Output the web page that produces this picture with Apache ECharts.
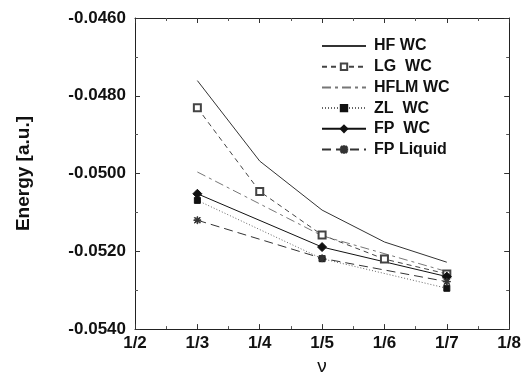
<!DOCTYPE html>
<html>
<head>
<meta charset="utf-8">
<script src="https://cdn.jsdelivr.net/npm/echarts@6/dist/echarts.min.js"></script>
<style>
  html, body { margin: 0; padding: 0; background: #fff; }
  #chart { width: 524px; height: 381px; }
</style>
</head>
<body>
<div id="chart"></div>
<script>
// nu = 1/n, n used as the x value
const nAll = [3, 4, 5, 6, 7];
const nOdd = [3, 5, 7];
const hfWC = [-0.04761, -0.04968, -0.05094, -0.05176, -0.05228];
const lgWC = [-0.04831, -0.05046, -0.05158, -0.05220, -0.05258];
const hflmWC = [-0.04996, -0.05160, -0.05252];
const zlWC = [-0.05069, -0.05219, -0.05295];
const fpWC = [-0.05052, -0.05189, -0.05265];
const fpLiquid = [-0.05120, -0.05218, -0.05278];

const FONT = '"Liberation Sans", Arial, sans-serif';
const asterisk = 'path://M4,0h1v9h-1z M0,4h9v1h-9z M0.6,1.3l0.7,-0.7l7.1,7.1l-0.7,0.7z M7.7,0.6l0.7,0.7l-7.1,7.1l-0.7,-0.7z';

const pairs = (xs, ys) => xs.map((x, i) => [x, ys[i]]);

const chart = echarts.init(document.getElementById('chart'), null, { renderer: 'canvas' });

const tickCfg = {
  axisLine: { lineStyle: { color: '#222', width: 1 } },
  axisTick: { inside: true, length: 5, lineStyle: { color: '#333' } },
  minorTick: { show: true, splitNumber: 2, length: 3, lineStyle: { color: '#555' } },
  splitLine: { show: false },
};

const line = (name, data, color, type, symbol, size, markColor) => ({
  name,
  type: 'line',
  data,
  symbol: symbol || 'none',
  symbolSize: size || 6,
  showSymbol: !!symbol,
  animation: false,
  lineStyle: { color, width: 1, type },
  itemStyle: { color: markColor || color, borderColor: markColor || color, borderWidth: 1 },
  emphasis: { disabled: true },
});

const clear = { color: 'rgba(0,0,0,0)', borderColor: 'rgba(0,0,0,0)', borderWidth: 0 };

chart.setOption({
  backgroundColor: '#fff',
  animation: false,
  grid: { left: 135, top: 18, right: 12, bottom: 41 },
  legend: {
    orient: 'vertical',
    left: 316,
    top: 33,
    itemWidth: 44,
    itemHeight: 8,
    itemGap: 4.7,
    textStyle: { fontFamily: FONT, fontSize: 16, fontWeight: 'bold', color: '#111', padding: [0, 0, 0, 3] },
    data: [
      { name: 'HF WC', icon: 'inherit', itemStyle: clear },
      { name: 'LG  WC' },
      { name: 'HFLM WC', icon: 'inherit', itemStyle: clear },
      { name: 'ZL  WC' },
      { name: 'FP  WC' },
      { name: 'FP Liquid' },
    ],
  },
  xAxis: [
    Object.assign({
      type: 'value', min: 2, max: 8, interval: 1,
      name: 'ν', nameLocation: 'middle', nameGap: 26,
      nameTextStyle: { fontFamily: FONT, fontSize: 19, color: '#111' },
      axisLabel: { fontFamily: FONT, fontSize: 17, fontWeight: 'bold', color: '#111', margin: 6, formatter: v => '1/' + v },
    }, tickCfg),
    Object.assign({
      type: 'value', min: 2, max: 8, interval: 1, position: 'top',
      axisLabel: { show: false },
    }, tickCfg),
  ],
  yAxis: [
    Object.assign({
      type: 'value', min: -0.054, max: -0.046, interval: 0.002,
      name: 'Energy [a.u.]', nameLocation: 'middle', nameGap: 102, nameRotate: 90,
      nameTextStyle: { fontFamily: FONT, fontSize: 19, fontWeight: 'bold', color: '#111' },
      axisLabel: { fontFamily: FONT, fontSize: 17, fontWeight: 'bold', color: '#111', margin: 9, formatter: v => v.toFixed(4) },
    }, tickCfg),
    Object.assign({
      type: 'value', min: -0.054, max: -0.046, interval: 0.002, position: 'right',
      axisLabel: { show: false },
    }, tickCfg),
  ],
  series: [
    line('HF WC', pairs(nAll, hfWC), '#333', 'solid'),
    line('LG  WC', pairs(nAll, lgWC), '#444', [5, 4], 'emptyRect', 7),
    line('HFLM WC', pairs(nOdd, hflmWC), '#777', [9, 4, 3, 4]),
    line('ZL  WC', pairs(nOdd, zlWC), '#666', [1, 2], 'rect', 6, '#111'),
    line('FP  WC', pairs(nOdd, fpWC), '#111', 'solid', 'diamond', 9),
    line('FP Liquid', pairs(nOdd, fpLiquid), '#333', [9, 5], asterisk, 7),
  ],
});
</script>
</body>
</html>
